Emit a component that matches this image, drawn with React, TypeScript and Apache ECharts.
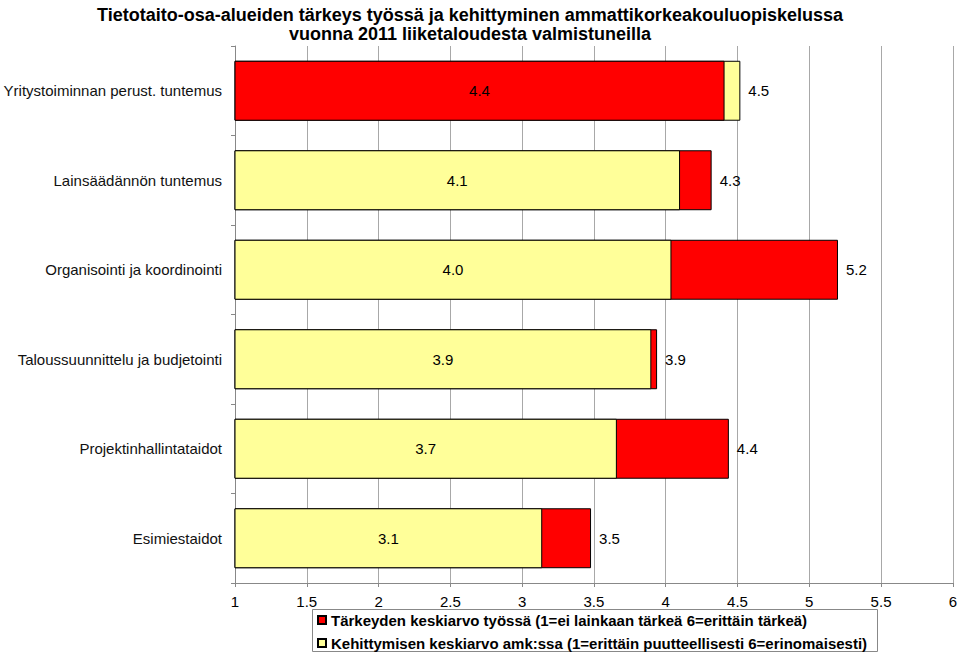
import React, { useEffect, useRef } from "react";
import * as echarts from "echarts";

const categories = [
  "Yritystoiminnan perust. tuntemus",
  "Lainsäädännön tuntemus",
  "Organisointi ja koordinointi",
  "Taloussuunnittelu ja budjetointi",
  "Projektinhallintataidot",
  "Esimiestaidot",
];
const importance = [4.41, 4.32, 5.2, 3.94, 4.44, 3.48];
const development = [4.52, 4.1, 4.04, 3.9, 3.66, 3.14];
const xTicks = { min: 1, max: 6, interval: 0.5 };

const nameRed = "Tärkeyden keskiarvo työssä (1=ei lainkaan tärkeä 6=erittäin tärkeä)";
const nameYellow = "Kehittymisen keskiarvo amk:ssa (1=erittäin puutteellisesti 6=erinomaisesti)";
const titleText =
  "Tietotaito-osa-alueiden tärkeys työssä ja kehittyminen ammattikorkeakouluopiskelussa\nvuonna 2011 liiketaloudesta valmistuneilla";

const FONT = "'Liberation Sans', Arial, sans-serif";
const RED = "#FF0000";
const YELLOW = "#FFFF99";

export default function App() {
  const ref = useRef<HTMLDivElement>(null);
  useEffect(() => {
    if (!ref.current) return;
    const chart = echarts.init(ref.current, undefined, { renderer: "svg" });
    const fmt = (p: any) => Number(p.value).toFixed(1);
    const common = {
      type: "bar",
      barGap: "-100%",
      barCategoryGap: "33%",
    };
    const backLabel = {
      show: true,
      position: "right",
      distance: 8,
      color: "#000",
      fontSize: 15,
      fontFamily: FONT,
      formatter: fmt,
    };
    const frontLabel = { ...backLabel, position: "inside" };
    const redBack = importance.map((v, i) => (v >= development[i] ? v : "-"));
    const yellowBack = development.map((v, i) => (v > importance[i] ? v : "-"));
    const redFront = importance.map((v, i) => (v < development[i] ? v : "-"));
    const yellowFront = development.map((v, i) => (v <= importance[i] ? v : "-"));
    const redStyle = { color: RED, borderColor: "#000", borderWidth: 1 };
    const yellowStyle = { color: YELLOW, borderColor: "#000", borderWidth: 1 };

    const legendCommon = {
      orient: "horizontal",
      left: 317,
      padding: 0,
      itemWidth: 8,
      itemHeight: 8,
      icon: "rect",
      selectedMode: false,
      textStyle: {
        fontSize: 15,
        fontWeight: "bold",
        color: "#000",
        fontFamily: FONT,
        lineHeight: 16,
      },
    };

    chart.setOption({
      animation: false,
      title: {
        text: titleText,
        left: 465,
        top: 0,
        textAlign: "center",
        textStyle: {
          fontSize: 18,
          fontWeight: "bold",
          lineHeight: 19,
          color: "#000",
          fontFamily: FONT,
        },
      },
      graphic: [
        {
          type: "rect",
          shape: { x: 312.5, y: 609.5, width: 565, height: 42 },
          style: { fill: "#fff", stroke: "#888", lineWidth: 1 },
          z: 0,
        },
      ],
      legend: [
        { ...legendCommon, data: [nameRed], top: 612 },
        { ...legendCommon, data: [nameYellow], top: 635 },
      ],
      grid: { left: 235, right: 5, top: 46, bottom: 70, containLabel: false },
      xAxis: {
        type: "value",
        min: xTicks.min,
        max: xTicks.max,
        interval: xTicks.interval,
        axisLine: { show: true, lineStyle: { color: "#888", width: 1 } },
        axisTick: { show: true, length: 4, lineStyle: { color: "#888" } },
        splitLine: { show: true, lineStyle: { color: "#A8A8A8", width: 1 } },
        axisLabel: {
          color: "#000",
          fontSize: 15,
          fontFamily: FONT,
          margin: 11,
          formatter: (v: number) => String(v),
        },
      },
      yAxis: {
        type: "category",
        data: categories,
        inverse: true,
        axisLine: { show: true, lineStyle: { color: "#888", width: 1 } },
        axisTick: { show: true, length: 4, lineStyle: { color: "#888" } },
        axisLabel: {
          color: "#111",
          fontSize: 15,
          fontFamily: FONT,
          margin: 13,
        },
      },
      series: [
        { ...common, name: nameRed, data: redBack, itemStyle: redStyle, label: backLabel },
        { ...common, name: nameYellow, data: yellowBack, itemStyle: yellowStyle, label: backLabel },
        { ...common, name: nameRed, data: redFront, itemStyle: redStyle, label: frontLabel },
        { ...common, name: nameYellow, data: yellowFront, itemStyle: yellowStyle, label: frontLabel },
      ],
    });
    return () => chart.dispose();
  }, []);
  return (
    <div
      ref={ref}
      style={{ position: "fixed", left: 0, top: 0, width: 960, height: 653, background: "#fff" }}
    />
  );
}
